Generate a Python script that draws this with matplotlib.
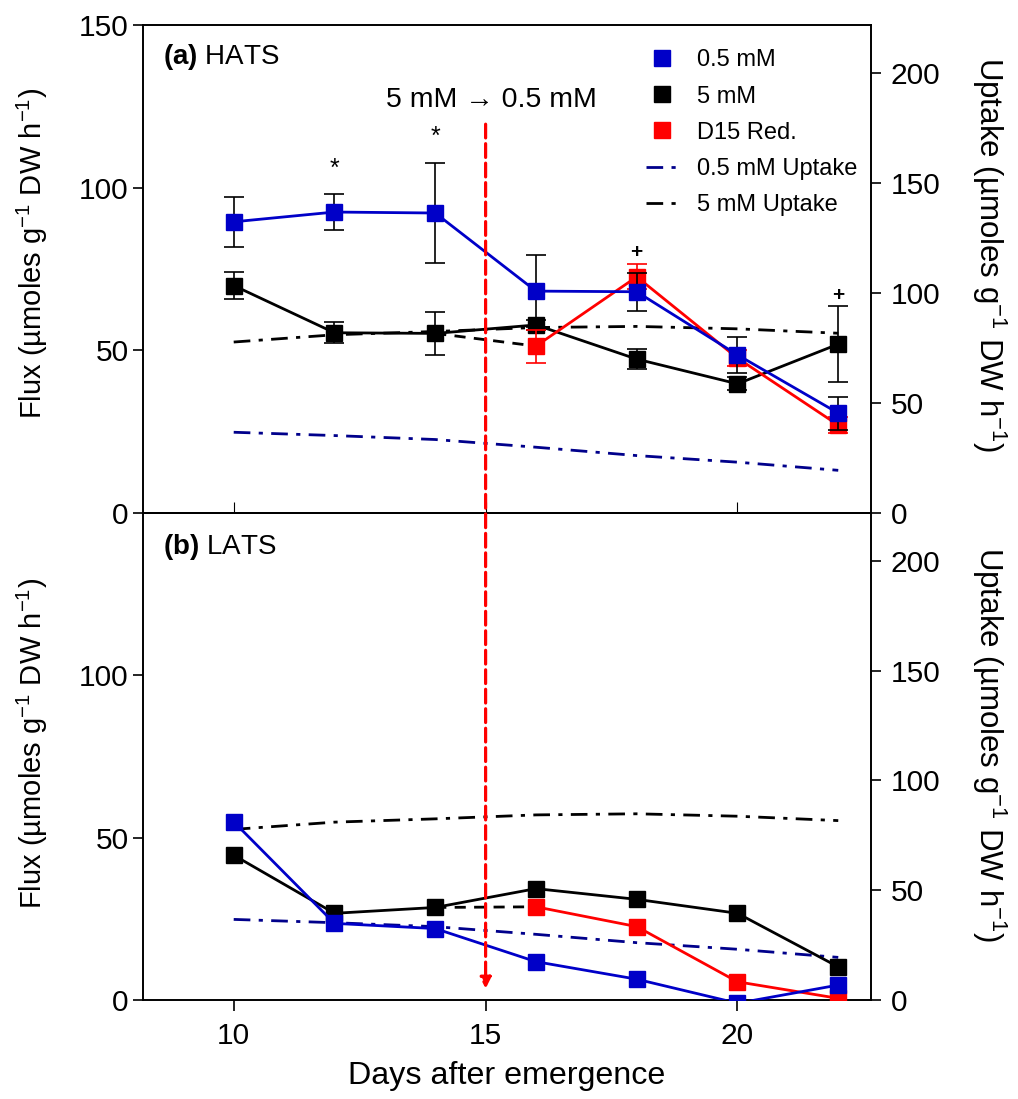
import numpy as np
import matplotlib.pyplot as plt
from matplotlib.lines import Line2D

plt.rcParams['font.family'] = ['Liberation Sans', 'DejaVu Sans']
plt.rcParams['mathtext.fontset'] = 'custom'
plt.rcParams['mathtext.rm'] = 'Liberation Sans'
plt.rcParams['mathtext.bf'] = 'Liberation Sans:bold'

# Dias após emergência
days = [10, 12, 14, 16, 18, 20, 22]
days_red = [16, 18, 20, 22]

# HATS (fluxo)
hats_05 = [89.5, 92.5, 92.2, 68.2, 68.0, 48.6, 30.7]
hats_05_err = [7.7, 5.4, 15.5, 11.0, 5.8, 5.6, 5.1]
hats_5 = [69.9, 55.4, 55.2, 57.8, 47.3, 39.7, 51.9]
hats_5_err = [4.1, 3.3, 6.7, 1.5, 3.0, 2.0, 11.6]
hats_red = [51.3, 72.6, 47.6, 27.0]
hats_red_err = [5.1, 3.8, 2.5, 2.5]

# LATS (fluxo)
lats_05 = [54.9, 23.6, 22.0, 11.8, 6.4, -1.0, 4.6]
lats_5 = [44.6, 26.7, 28.5, 34.3, 31.0, 26.7, 10.2]
lats_red = [28.7, 22.6, 5.6, 0.5]

# Absorção (eixo direito)
uptake_05 = [36.7, 35.2, 33.4, 29.9, 26.1, 23.1, 19.4]
uptake_5 = [77.7, 81.0, 82.5, 84.3, 84.8, 83.7, 81.7]

blue = '#0000C8'
navy = '#00008B'
red = '#FF0000'

fs = 21.5

fig = plt.figure(figsize=(10.18, 10.99), dpi=100)
ax1 = fig.add_axes([0.1405, 0.5332, 0.7151, 0.4441])
ax2 = fig.add_axes([0.1405, 0.0901, 0.7151, 0.4431])

ms = 12
dashdot = (0, (6, 3, 1.5, 3))


def painel(ax, f05, f5, fred, e05=None, e5=None, ered=None, ly=0.53, ry=0.53):
    ax.errorbar(days, f05, yerr=e05, color=blue, marker='s', ms=ms, lw=2,
                ecolor='black', elinewidth=1.2, capsize=7, capthick=1.2, zorder=5,
                label='0.5 mM')
    ax.errorbar(days, f5, yerr=e5, color='black', marker='s', ms=ms, lw=2,
                ecolor='black', elinewidth=1.2, capsize=7, capthick=1.2, zorder=4,
                label='5 mM')
    ax.plot([days[2], days_red[0]], [f5[2], fred[0]], color='black', lw=2,
            ls=(0, (4, 3)), zorder=3)
    ax.errorbar(days_red, fred, yerr=ered, color=red, marker='s', ms=ms, lw=2,
                ecolor=red, elinewidth=1.2, capsize=7, capthick=1.2, zorder=4.5,
                label='D15 Red.')
    ax.set_xlim(8.2, 22.65)
    ax.set_ylim(0, 150)
    axr = ax.twinx()
    axr.plot(days, uptake_05, color=navy, lw=2, ls=dashdot, label='0.5 mM Uptake')
    axr.plot(days, uptake_5, color='black', lw=2, ls=dashdot, label='5 mM Uptake')
    axr.set_ylim(0, 221.8)
    axr.set_yticks([0, 50, 100, 150, 200])
    axr.set_ylabel('Uptake (µmoles g$^{-1}$ DW h$^{-1}$)', fontsize=22.5,
                   rotation=270, va='bottom', rotation_mode='anchor')
    axr.yaxis.label.set_va('bottom')
    axr.yaxis.set_label_coords(1.136, ry)
    axr.tick_params(labelsize=fs, direction='out', length=7, width=1.2, pad=7)
    ax.set_ylabel('Flux (µmoles g$^{-1}$ DW h$^{-1}$)', fontsize=21)
    ax.yaxis.set_label_coords(-0.128, ly)
    ax.tick_params(axis='y', labelsize=fs, direction='out', length=7, width=1.2)
    ax.set_xticks([10, 15, 20])
    ax.set_zorder(axr.get_zorder() + 1)
    ax.patch.set_visible(False)
    for a in (ax, axr):
        for s in a.spines.values():
            s.set_linewidth(1.2)
    return axr


ax1r = painel(ax1, hats_05, hats_5, hats_red, hats_05_err, hats_5_err, hats_red_err,
              ly=0.531, ry=0.529)
ax2r = painel(ax2, lats_05, lats_5, lats_red, ly=0.527, ry=0.524)

ax1.set_yticks([0, 50, 100, 150])
ax1.tick_params(axis='x', direction='in', length=8, labelbottom=False)
ax2.set_yticks([0, 50, 100])
ax2.tick_params(axis='x', direction='out', length=8, width=1.2, labelsize=fs, pad=8)
ax2.set_xlabel('Days after emergence', fontsize=23.2, labelpad=8)

ax1.text(0.027, 0.935, r'$\mathbf{(a)}$ HATS', transform=ax1.transAxes, fontsize=20, va='center')
ax2.text(0.027, 0.93, r'$\mathbf{(b)}$ LATS', transform=ax2.transAxes, fontsize=20, va='center')

# marcas de significância
for x, y, s in [(12, 102, '*'), (14, 112, '*')]:
    ax1.text(x, y, s, ha='center', va='bottom', fontsize=18)
for x, y, s in [(18, 77, '+'), (22, 64, '+')]:
    ax1.text(x, y, s, ha='center', va='bottom', fontsize=15, fontweight='bold')

ax1.text(15.12, 127, '5 mM → 0.5 mM', ha='center', va='center', fontsize=20.5)

# seta da troca de solução
ax2.annotate('', xy=(15, 3.5), xycoords='data',
             xytext=(15, 119.5), textcoords=ax1.transData,
             arrowprops=dict(arrowstyle='-|>', color=red, lw=2.3, ls=(0, (4.3, 1.8)),
                             mutation_scale=16, shrinkA=0, shrinkB=0),
             zorder=10, annotation_clip=False)

h1, l1 = ax1.get_legend_handles_labels()
h2, l2 = ax1r.get_legend_handles_labels()
hs = [Line2D([], [], color=c, marker='s', ms=11, ls='none') for c in (blue, 'black', red)] + h2
ax1.legend(hs, l1 + l2, loc='upper left', bbox_to_anchor=(0.691, 0.950), frameon=False,
           fontsize=17, handlelength=1.35, handletextpad=0.8, labelspacing=0.6,
           borderpad=0, borderaxespad=0)

fig.savefig('out.png', dpi=100)
